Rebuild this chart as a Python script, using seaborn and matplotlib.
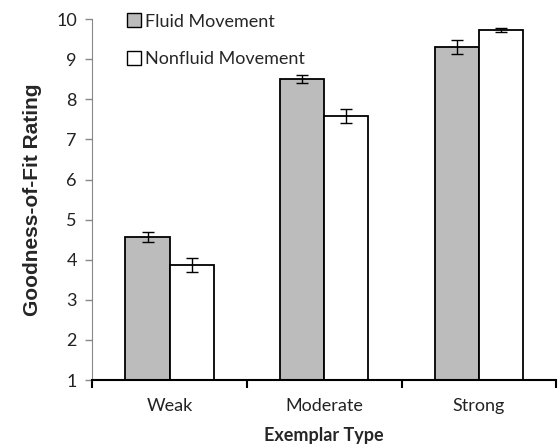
import numpy as np
import pandas as pd
import seaborn as sns
import matplotlib.pyplot as plt
from matplotlib.lines import Line2D

# valores
tipos = ["Weak", "Moderate", "Strong"]
grupos = ["Fluid Movement", "Nonfluid Movement"]
fluid = [4.57, 8.50, 9.30]
nonfluid = [3.87, 7.58, 9.72]
erro_fluid = [0.13, 0.10, 0.17]
erro_nonfluid = [0.17, 0.17, 0.05]

dados = pd.DataFrame({
    "tipo": tipos * 2,
    "grupo": [grupos[0]] * 3 + [grupos[1]] * 3,
    "nota": fluid + nonfluid,
    "erro": erro_fluid + erro_nonfluid,
})

sns.set_style("white")
plt.rcParams['font.family'] = ['Lato', 'DejaVu Sans']

fig = plt.figure(figsize=(5.59, 4.45), dpi=100)
ax = fig.add_axes([0.165, 0.146, 0.83, 0.811])

cinza = "#bcbcbc"
sns.barplot(x="tipo", y="nota", hue="grupo", data=dados, ax=ax,
            palette=[cinza, "white"], width=0.57, gap=0,
            edgecolor="black", linewidth=1.3, errorbar=None, legend=False)

# barras de erro
for barra, (_, linha) in zip(ax.patches, dados.iterrows()):
    cx = barra.get_x() + barra.get_width() / 2
    ax.errorbar(cx, linha.nota, yerr=linha.erro, fmt="none", ecolor="black",
                elinewidth=1, capsize=4, capthick=1)

ax.set_ylim(1, 10)
ax.set_xlim(-0.5, 2.5)
ax.set_yticks(range(1, 11))
ax.set_xticks([0, 1, 2])
ax.set_xticklabels(tipos)
ax.set_xticks([-0.5, 0.5, 1.5, 2.5], minor=True)
ax.tick_params(axis="x", which="major", length=0, labelsize=13, pad=13, colors="#222222")
ax.tick_params(axis="x", which="minor", length=6, width=1.5, color="black",
               direction="out", bottom=True)
ax.tick_params(axis="y", length=5, width=1, color="#888888", labelsize=13, pad=6,
               labelcolor="#222222", left=True)

sns.despine(ax=ax)
ax.spines["left"].set_color("#888888")
ax.spines["bottom"].set_color("black")
ax.spines["bottom"].set_linewidth(1.5)

ax.set_ylabel("Goodness-of-Fit Rating", fontsize=15, fontweight="bold",
              family=["Liberation Sans"], labelpad=10)
ax.set_xlabel("Exemplar Type", fontsize=13, fontweight="bold", labelpad=9)

# legenda
marcas = [Line2D([0], [0], marker="s", linestyle="none", markersize=10,
                 markerfacecolor=cor, markeredgecolor="black", markeredgewidth=1)
          for cor in [cinza, "white"]]
ax.legend(marcas, grupos, loc="upper left", bbox_to_anchor=(0.035, 1.06), frameon=False,
          fontsize=13, handletextpad=0.15, labelspacing=1.2, handlelength=1.0)

fig.savefig("out.png", dpi=100)
